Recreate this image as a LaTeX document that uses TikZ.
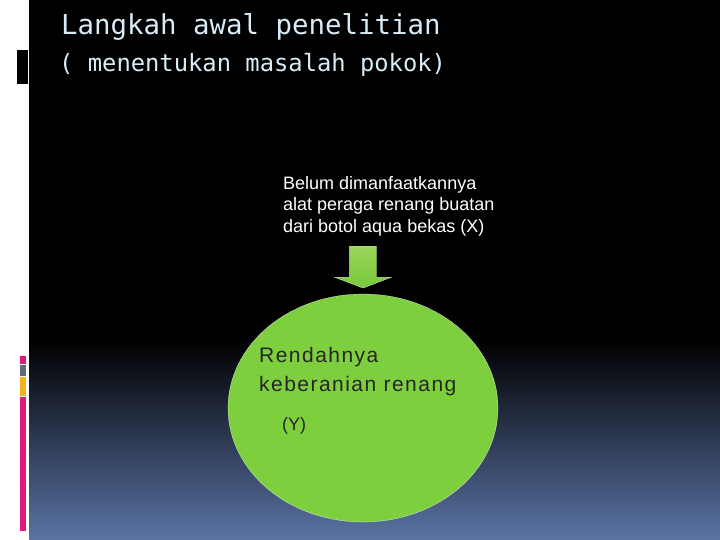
\documentclass[tikz,border=0pt]{standalone}
\usepackage{fontspec}
\setmainfont{Liberation Sans}
\newfontfamily\titlefont{DejaVu Sans Mono}
\newfontfamily\spacedfont[LetterSpace=7]{Liberation Sans}
\usetikzlibrary{shapes.geometric,shapes.arrows}
\definecolor{titleblue}{HTML}{D8ECF8}
\definecolor{slideblue}{HTML}{5A74A4}
\definecolor{leafgreen}{HTML}{7ECF3E}
\definecolor{arrowtop}{HTML}{9AD65A}
\definecolor{arrowbottom}{HTML}{78C83C}
\definecolor{barpink}{HTML}{E0197D}
\definecolor{bargray}{HTML}{5F6B7A}
\definecolor{barorange}{HTML}{F6B21B}
\tikzstyle{heading} = [anchor=base west, inner sep=0, text=titleblue]
\tikzstyle{problem} = [anchor=north west, inner sep=0, align=left, text=white, font=\fontsize{18}{21.5}\selectfont]
\tikzstyle{pointer} = [single arrow, draw=white, very thin, top color=arrowtop, bottom color=arrowbottom, shape border rotate=270, inner sep=13.5pt, minimum height=42, single arrow head extend=15pt, single arrow tip angle=138, single arrow head indent=0pt]
\tikzstyle{result} = [ellipse, draw=white, very thin, fill=leafgreen, minimum width=270, minimum height=228, inner sep=0]
\tikzstyle{resulttext} = [anchor=base west, inner sep=0, text=black!85]

\begin{document}
\begin{tikzpicture}[x=1pt, y=-1pt]
    % slide background
    \useasboundingbox (0,0) rectangle (720,540);
    \fill[white] (0,0) rectangle (720,540);
    \fill[black] (29,0) rectangle (720,341);
    \shade[top color=black, bottom color=slideblue] (29,340) rectangle (720,540);

    % side bars
    \fill[black] (17,50) rectangle (28,84);
    \fill[barpink] (20,356) rectangle (26,364);
    \fill[bargray] (20,365) rectangle (26,376);
    \fill[barorange] (20,377) rectangle (26,396);
    \fill[barpink] (20,397) rectangle (26,531);

    \node (title) [heading, font=\titlefont\fontsize{27.4}{30}\selectfont] at (61,35) {Langkah awal penelitian};
    \node (subtitle) [heading, font=\titlefont\fontsize{23.8}{28}\selectfont] at (59,72) {( menentukan masalah pokok)};

    \node (cause) [problem] at (283,176) {Belum dimanfaatkannya\\alat peraga renang buatan\\dari botol aqua bekas (X)};
    \node (arrow) [pointer, anchor=tail] at (363,246) {};
    \node (effect) [result] at (363,408) {};

    \node (effectline1) [resulttext, font=\spacedfont\fontsize{21}{25}\selectfont] at (259,362) {Rendahnya};
    \node (effectline2) [resulttext, font=\spacedfont\fontsize{21}{25}\selectfont] at (259,391) {keberanian renang};
    \node (effectvar) [resulttext, font=\fontsize{18}{20}\selectfont] at (282,430) {(Y)};
  \end{tikzpicture}
\end{document}
